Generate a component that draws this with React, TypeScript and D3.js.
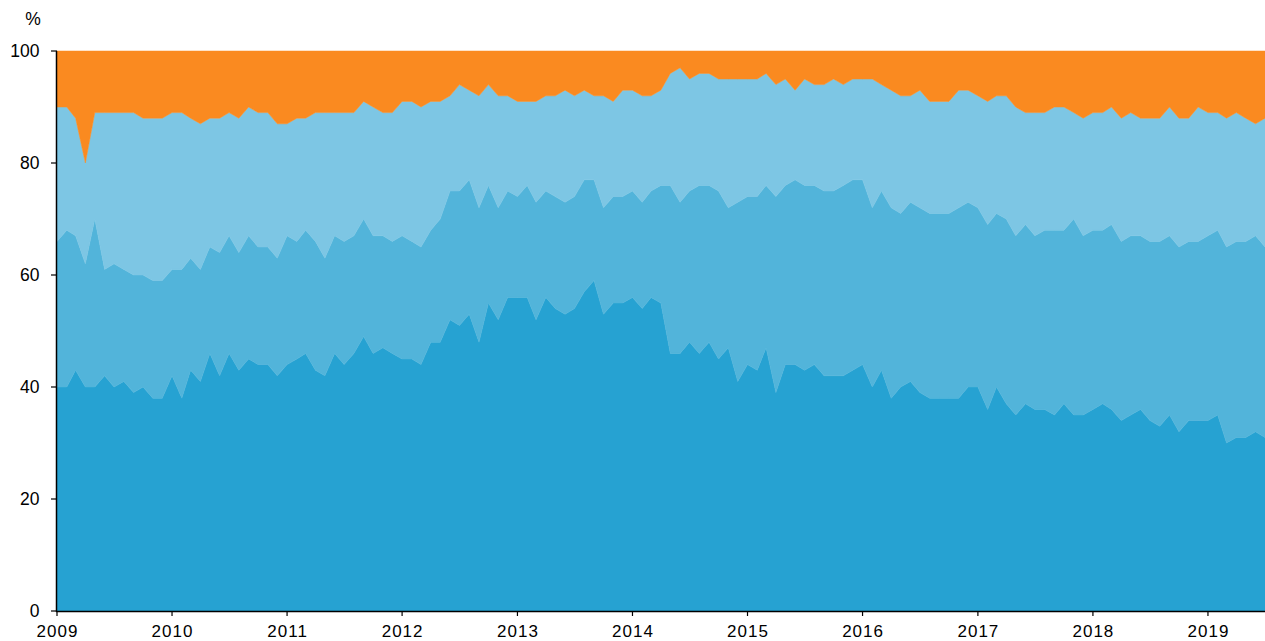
import React from "react";
import * as d3 from "d3";

// Monthly observations, Jan 2009 – Jul 2019
const months: Date[] = d3.timeMonth.range(new Date(2009, 0, 1), new Date(2019, 7, 1));

const yearTicks = [2009, 2010, 2011, 2012, 2013, 2014, 2015, 2016, 2017, 2018, 2019];
const yTicks = [0, 20, 40, 60, 80, 100];

// Shares (%) of each component, bottom to top
const series1 = [
  40, 40, 43, 40, 40, 42, 40, 41, 39, 40, 38, 38, 42, 38, 43, 41, 46, 42, 46, 43, 45, 44,
  44, 42, 44, 45, 46, 43, 42, 46, 44, 46, 49, 46, 47, 46, 45, 45, 44, 48, 48, 52, 51,
  53, 48, 55, 52, 56, 56, 56, 52, 56, 54, 53, 54, 57, 59, 53, 55, 55, 56, 54, 56, 55,
  46, 46, 48, 46, 48, 45, 47, 41, 44, 43, 47, 39, 44, 44, 43, 44, 42, 42, 42, 43, 44,
  40, 43, 38, 40, 41, 39, 38, 38, 38, 38, 40, 40, 36, 40, 37, 35, 37, 36, 36, 35, 37,
  35, 35, 36, 37, 36, 34, 35, 36, 34, 33, 35, 32, 34, 34, 34, 35, 30, 31, 31, 32, 31,
];
const series2 = [
  26, 28, 24, 22, 30, 19, 22, 20, 21, 20, 21, 21, 19, 23, 20, 20, 19, 22, 21, 21, 22, 21,
  21, 21, 23, 21, 22, 23, 21, 21, 22, 21, 21, 21, 20, 20, 22, 21, 21, 20, 22, 23, 24,
  24, 24, 21, 20, 19, 18, 20, 21, 19, 20, 20, 20, 20, 18, 19, 19, 19, 19, 19, 19, 21,
  30, 27, 27, 30, 28, 30, 25, 32, 30, 31, 29, 35, 32, 33, 33, 32, 33, 33, 34, 34, 33,
  32, 32, 34, 31, 32, 33, 33, 33, 33, 34, 33, 32, 33, 31, 33, 32, 32, 31, 32, 33, 31,
  35, 32, 32, 31, 33, 32, 32, 31, 32, 33, 32, 33, 32, 32, 33, 33, 35, 35, 35, 35, 34,
];
const series3 = [
  24, 22, 21, 18, 19, 28, 27, 28, 29, 28, 29, 29, 28, 28, 25, 26, 23, 24, 22, 24, 23, 24,
  24, 24, 20, 22, 20, 23, 26, 22, 23, 22, 21, 23, 22, 23, 24, 25, 25, 23, 21, 17, 19,
  16, 20, 18, 20, 17, 17, 15, 18, 17, 18, 20, 18, 16, 15, 20, 17, 19, 18, 19, 17, 17,
  20, 24, 20, 20, 20, 20, 23, 22, 21, 21, 20, 20, 19, 16, 19, 18, 19, 20, 18, 18, 18,
  23, 19, 21, 21, 19, 21, 20, 20, 20, 21, 20, 20, 22, 21, 22, 23, 20, 22, 21, 22, 22,
  19, 21, 21, 21, 21, 22, 22, 21, 22, 22, 23, 23, 22, 24, 22, 21, 23, 23, 22, 20, 23,
];
const series4 = [
  10, 10, 12, 20, 11, 11, 11, 11, 11, 12, 12, 12, 11, 11, 12, 13, 12, 12, 11, 12, 10, 11,
  11, 13, 13, 12, 12, 11, 11, 11, 11, 11, 9, 10, 11, 11, 9, 9, 10, 9, 9, 8, 6,
  7, 8, 6, 8, 8, 9, 9, 9, 8, 8, 7, 8, 7, 8, 8, 9, 7, 7, 8, 8, 7,
  4, 3, 5, 4, 4, 5, 5, 5, 5, 5, 4, 6, 5, 7, 5, 6, 6, 5, 6, 5, 5,
  5, 6, 7, 8, 8, 7, 9, 9, 9, 7, 7, 8, 9, 8, 8, 10, 11, 11, 11, 10, 10,
  11, 12, 11, 11, 10, 12, 11, 12, 12, 12, 10, 12, 12, 10, 11, 11, 12, 11, 12, 13, 12,
];

const seriesKeys = ["s1", "s2", "s3", "s4"];
const seriesColors = ["#26a2d2", "#52b4da", "#7dc6e4", "#fa8a20"];

const W = 1265;
const H = 641;
const left = 57;
const right = 1265;
const top = 51;
const bottom = 611;
const font = "'Liberation Sans', Arial, sans-serif";

export default function App() {
  const rows = months.map((d, i) => ({
    date: d,
    s1: series1[i],
    s2: series2[i],
    s3: series3[i],
    s4: series4[i],
  }));

  const x = d3
    .scaleTime()
    .domain([months[0], months[months.length - 1]])
    .range([left, right]);
  const y = d3.scaleLinear().domain([0, 100]).range([bottom, top]);

  const stacked = d3.stack<any>().keys(seriesKeys)(rows);
  const area = d3
    .area<any>()
    .x((d) => x(d.data.date))
    .y0((d) => y(d[0]))
    .y1((d) => y(d[1]));

  return (
    <svg
      width={W}
      height={H}
      style={{ position: "absolute", left: 0, top: 0, background: "#fff" }}
    >
      {stacked.map((layer, k) => (
        <path
          key={seriesKeys[k]}
          d={area(layer) || ""}
          fill={seriesColors[k]}
          stroke={seriesColors[k]}
          strokeWidth={0.5}
        />
      ))}

      {/* y axis */}
      <line x1={left - 0.5} x2={left - 0.5} y1={top} y2={bottom + 1} stroke="#000" strokeWidth={1.5} />
      {yTicks.map((t) => (
        <g key={t}>
          <line x1={left - 6} x2={left} y1={y(t)} y2={y(t)} stroke="#000" strokeWidth={1.2} />
          <text
            x={39.5}
            y={y(t)}
            textAnchor="end"
            dominantBaseline="central"
            fontFamily={font}
            fontSize={17.5}
            fill="#000"
          >
            {t}
          </text>
        </g>
      ))}
      <text x={33} y={25} textAnchor="middle" fontFamily={font} fontSize={17.5} fill="#000">
        %
      </text>

      {/* x axis */}
      <line x1={left - 1} x2={right} y1={bottom + 0.5} y2={bottom + 0.5} stroke="#000" strokeWidth={1.5} />
      {yearTicks.map((yr) => {
        const xx = x(new Date(yr, 0, 1));
        return (
          <g key={yr}>
            <line x1={xx} x2={xx} y1={bottom} y2={bottom + 5} stroke="#000" strokeWidth={1.2} />
            <text
              x={xx + 0.5}
              y={637}
              textAnchor="middle"
              fontFamily={font}
              fontSize={17}
              letterSpacing={1}
              fill="#000"
            >
              {yr}
            </text>
          </g>
        );
      })}
    </svg>
  );
}
